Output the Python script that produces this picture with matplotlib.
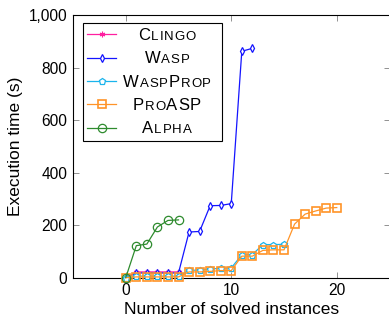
import numpy as np
import matplotlib
matplotlib.use('Agg')
import matplotlib.pyplot as plt
from matplotlib.ticker import FuncFormatter
from matplotlib.offsetbox import TextArea, HPacker, AnchoredOffsetbox

plt.rcParams['font.family'] = ['Liberation Sans', 'DejaVu Sans']

# values
clingo_x = [0, 1, 2, 3, 4, 5]
clingo_y = [0, 22, 22, 22, 22, 22]
wasp_x = list(range(13))
wasp_y = [0, 18, 18, 18, 18, 18, 174, 176, 274, 275, 282, 862, 873]
wp_x = list(range(16))
wp_y = [0, 6, 6, 6, 6, 6, 28, 29, 33, 36, 37, 87, 88, 126, 126, 127]
pro_x = list(range(21))
pro_y = [0, 3, 3, 3, 3, 3, 22, 22, 24, 27, 27, 82, 82, 104, 106, 106, 204, 242, 254, 265, 267]
alpha_x = [0, 1, 2, 3, 4, 5]
alpha_y = [0, 122, 128, 193, 218, 220]

# legend names in small caps: (text, big letter?)
names = [
    [('C', True), ('LINGO', False)],
    [('W', True), ('ASP', False)],
    [('W', True), ('ASP', False), ('P', True), ('ROP', False)],
    [('P', True), ('RO', False), ('ASP', True)],
    [('A', True), ('LPHA', False)],
]

fig = plt.figure(figsize=(3.89, 3.24), dpi=100)
ax = fig.add_axes([73 / 389, 1 - 277.7 / 324, 316.5 / 389, 262.7 / 324])

lw = 0.9
ax.plot(clingo_x, clingo_y, color='#ff1fa0', lw=lw, marker=(6, 2, 0), ms=4, mew=0.8, clip_on=False, zorder=3)
ax.plot(wasp_x, wasp_y, color='#1414ff', lw=lw, marker='d', ms=4.2, mfc='white', mew=0.9, clip_on=False, zorder=3)
ax.plot(wp_x, wp_y, color='#1ab4ec', lw=lw, marker='p', ms=5, mfc='white', mew=0.9, clip_on=False, zorder=3)
ax.plot(pro_x, pro_y, color='#ff9428', lw=lw, marker='s', ms=6, mfc='none', mew=1.2, clip_on=False, zorder=3)
ax.plot(alpha_x, alpha_y, color='#2e8b2e', lw=lw, marker='o', ms=6, mfc='none', mew=0.9, clip_on=False, zorder=4)

ax.set_xlim(-5, 25)
ax.set_ylim(0, 1000)
ax.set_xticks([0, 10, 20])
ax.set_yticks(np.arange(0, 1001, 200))
ax.yaxis.set_major_formatter(FuncFormatter(lambda v, p: f'{v:,.0f}'))
ax.tick_params(direction='in', length=4.3, width=0.6, color='#808080',
               top=True, right=True, labelsize=11.2, pad=4)
for s in ax.spines.values():
    s.set_linewidth(0.8)

ax.set_xlabel('Number of solved instances', fontsize=12.5, labelpad=3)
ax.set_ylabel('Execution time (s)', fontsize=12.5, labelpad=4)

leg = ax.legend([' '] * 5, loc='upper left', bbox_to_anchor=(0.031, 0.52, 0.439, 0.448),
                mode='expand', borderaxespad=0, fontsize=12, handlelength=1.7,
                borderpad=0.28, labelspacing=0.5, fancybox=False, edgecolor='black',
                framealpha=1)
leg.get_frame().set_linewidth(0.8)

fig.canvas.draw()
r = fig.canvas.get_renderer()
for t, parts in zip(leg.get_texts(), names):
    bb = t.get_window_extent(r)
    yc = (bb.y0 + bb.y1) / 2 / fig.bbox.height
    boxes = []
    for s, big in parts:
        for ch in s:
            boxes.append(TextArea(ch, textprops=dict(fontsize=12 if big else 9.5)))
    row = HPacker(children=boxes, align='baseline', pad=0, sep=0.6)
    xc = 167 / 389
    ab = AnchoredOffsetbox(loc='center', child=row, pad=0, borderpad=0, frameon=False,
                           bbox_to_anchor=(xc, yc), bbox_transform=fig.transFigure)
    fig.add_artist(ab)

fig.savefig('out.png', dpi=100)
